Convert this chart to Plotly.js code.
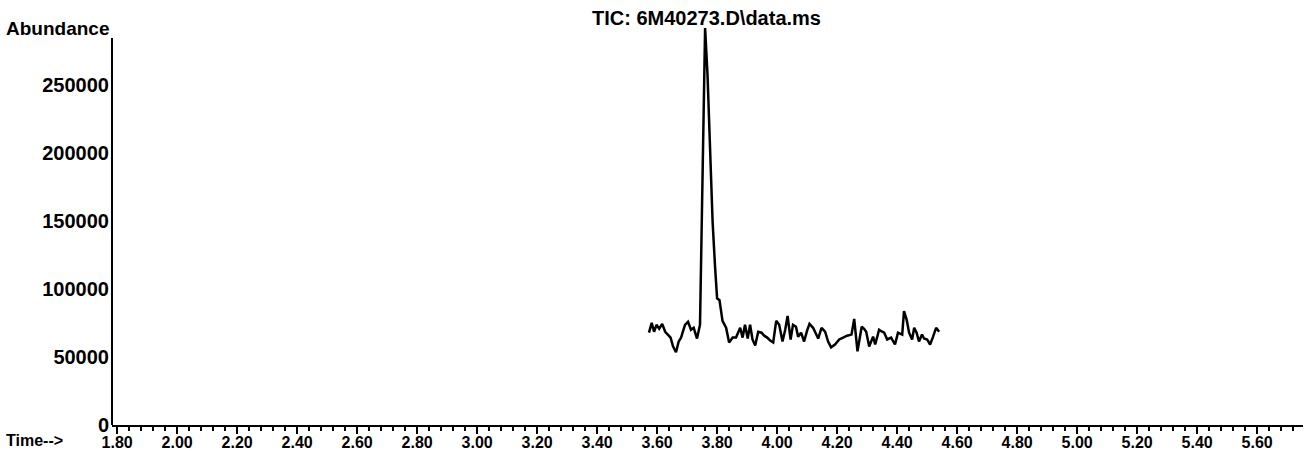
<!DOCTYPE html>
<html>
<head>
<meta charset="utf-8">
<script src="https://cdn.plot.ly/plotly-3.0.1.min.js"></script>
<style>html,body{margin:0;padding:0;background:#fff;}#chart{width:1306px;height:451px;}</style>
</head>
<body>
<div id="chart"></div>
<script>
// Retention time (min)
const times = [3.573,3.582,3.590,3.598,3.607,3.617,3.627,3.635,3.645,3.653,3.663,3.672,3.680,3.687,3.693,3.703,3.713,3.722,3.733,3.743,
3.752,3.760,3.768,3.777,3.785,3.793,3.800,3.808,3.818,3.830,3.840,3.852,3.863,3.877,3.885,3.893,3.902,3.910,3.918,3.927,
3.937,3.948,3.957,3.967,3.977,3.987,3.997,4.007,4.018,4.027,4.035,4.045,4.053,4.063,4.070,4.080,4.090,4.100,4.108,4.120,
4.128,4.137,4.148,4.160,4.170,4.180,4.193,4.207,4.220,4.233,4.248,4.257,4.268,4.282,4.290,4.297,4.307,4.320,4.327,4.340,
4.350,4.357,4.367,4.380,4.393,4.403,4.417,4.423,4.432,4.440,4.450,4.457,4.465,4.473,4.483,4.490,4.500,4.510,4.520,4.530,4.540];
// Total ion current abundance
const abundance = [67900,75100,68600,73700,70800,74400,68600,66500,64300,57800,53500,61400,64300,69400,73700,75900,70100,71500,63600,73700,
182100,291900,257900,203700,149600,117000,93200,91800,76600,71500,60700,64300,64300,71500,64300,73700,63600,73700,62900,58500,
68600,67900,65700,64300,62100,60700,76600,73700,61400,70100,80200,62900,73700,72300,65000,67900,61400,69400,74400,71500,
67900,63600,71500,68600,61400,57100,59200,62900,64300,65700,66500,78000,54200,72300,70800,68600,57800,65000,59200,70100,
68600,67900,62900,64300,59200,67900,66500,83800,77300,67900,62900,71500,67900,61400,66500,63600,62900,59200,65000,71500,68600];
const yTickVals = [0,50000,100000,150000,200000,250000];
const yTickText = ["0","50000","100000","150000","200000","250000"];
const xTickVals = [1.8,2.0,2.2,2.4,2.6,2.8,3.0,3.2,3.4,3.6,3.8,4.0,4.2,4.4,4.6,4.8,5.0,5.2,5.4,5.6];
const xTickText = ["1.80","2.00","2.20","2.40","2.60","2.80","3.00","3.20","3.40","3.60","3.80","4.00","4.20","4.40","4.60","4.80","5.00","5.20","5.40","5.60"];
const titleText = "TIC: 6M40273.D\\data.ms";
const yLabel = "Abundance";
const xLabel = "Time-->";

const FONT = "Liberation Sans, Arial, sans-serif";

const trace = {
  x: times, y: abundance, type: "scatter", mode: "lines",
  line: {color: "#000", width: 2.5}, hoverinfo: "skip", showlegend: false
};

const layout = {
  width: 1306, height: 451,
  margin: {l: 112, r: 3, t: 28, b: 26},
  paper_bgcolor: "#fff", plot_bgcolor: "#fff",
  showlegend: false,
  xaxis: {
    range: [1.783, 5.753],
    tickmode: "array", tickvals: xTickVals, ticktext: xTickText,
    ticks: "outside", ticklen: 7, tickwidth: 2, tickcolor: "#000",
    minor: {tickmode: "linear", tick0: 1.8, dtick: 0.04, ticks: "outside", ticklen: 4, tickwidth: 2, tickcolor: "#000", showgrid: false},
    showline: true, linewidth: 2, linecolor: "#000",
    showgrid: false, zeroline: false,
    ticklabelstandoff: -5,
    tickfont: {family: FONT, size: 16, color: "#000", weight: "bold"}
  },
  yaxis: {
    range: [0, 292000],
    tickmode: "array", tickvals: yTickVals, ticktext: yTickText,
    ticks: "", showline: false, showgrid: false, zeroline: false,
    ticklabelstandoff: 2,
    tickfont: {family: FONT, size: 20, color: "#000", weight: "bold"}
  },
  shapes: [
    {type: "line", xref: "paper", yref: "y", x0: 0, x1: 0, y0: 0, y1: 284700, line: {color: "#000", width: 2}}
  ],
  annotations: [
    {text: titleText, xref: "paper", yref: "paper", x: (706-112)/1191, y: 1, yshift: 10, xanchor: "center", yanchor: "middle", showarrow: false,
     font: {family: FONT, size: 20, color: "#000", weight: "bold"}},
    {text: yLabel, xref: "paper", yref: "paper", x: -108/1191, xanchor: "left", y: 1, yshift: 12, yanchor: "top", showarrow: false,
     font: {family: FONT, size: 19, color: "#000", weight: "bold"}},
    {text: xLabel, xref: "paper", yref: "paper", x: -108/1191, xanchor: "left", y: 0, yshift: -26, yanchor: "bottom", showarrow: false,
     font: {family: FONT, size: 16, color: "#000", weight: "bold"}}
  ]
};

Plotly.newPlot("chart", [trace], layout, {staticPlot: true, displayModeBar: false});
</script>
</body>
</html>
